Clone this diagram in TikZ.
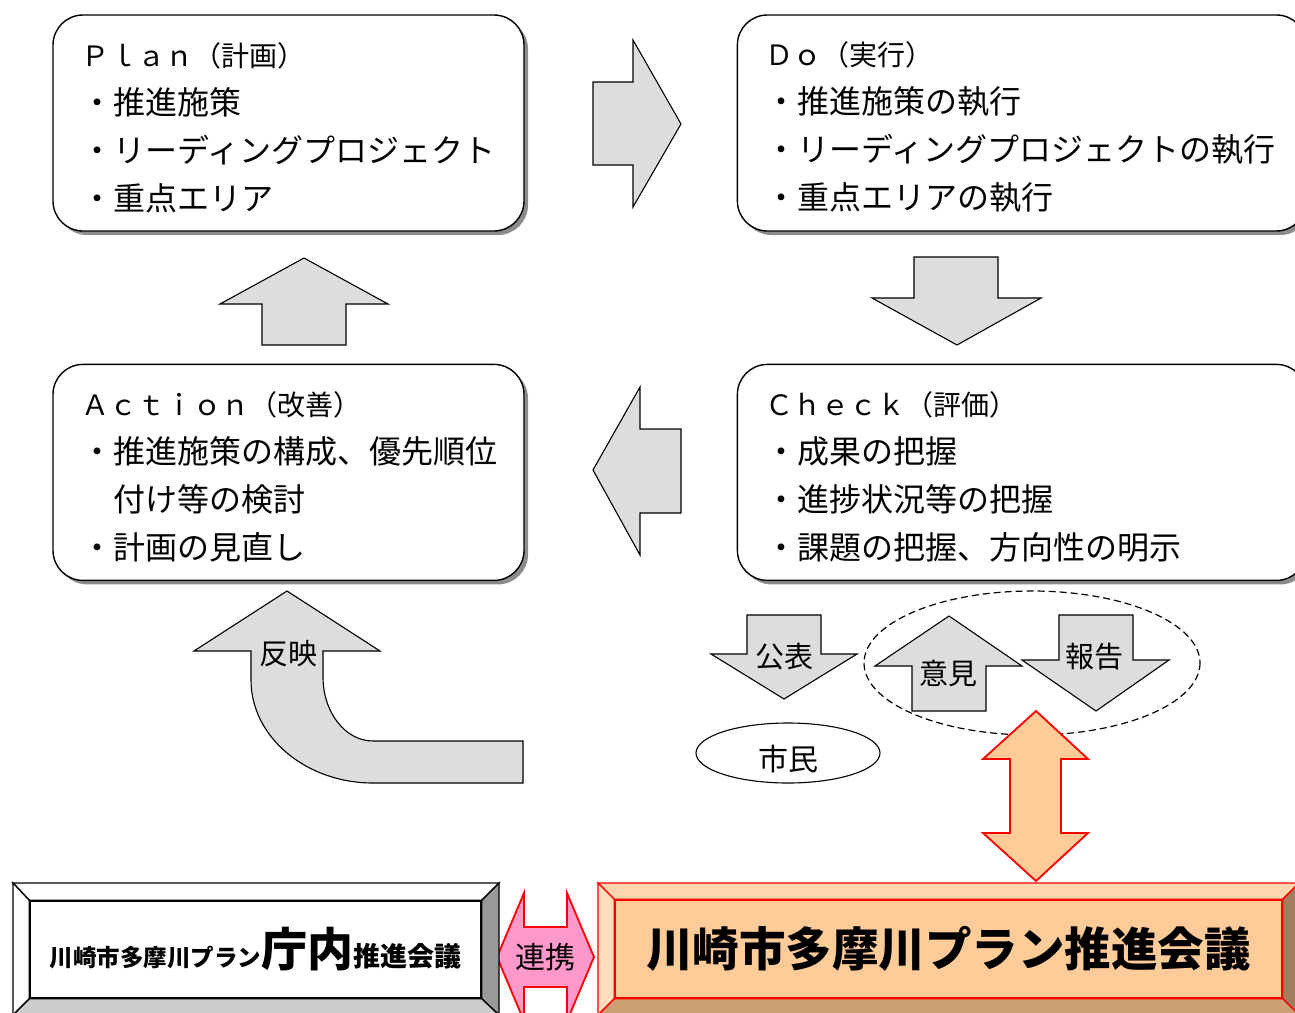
\documentclass[tikz,border=0pt]{standalone}
\usepackage{fontspec}
\setmainfont{Noto Sans CJK JP}
\usepackage{tikz}
\usetikzlibrary{positioning,shadows,shapes.geometric}
\definecolor{arrowgray}{RGB}{221,221,221}
\definecolor{peach}{RGB}{255,204,153}
\definecolor{peachlight}{RGB}{255,222,190}
\definecolor{peachtop}{RGB}{255,214,173}
\definecolor{peachdark}{RGB}{204,160,116}
\definecolor{peachside}{RGB}{160,125,92}
\definecolor{pinkfill}{RGB}{255,153,204}
\tikzset{
	pdca/.style={draw, line width=1.4pt, rounded corners=30pt, fill=white,
		align=left, inner xsep=28.5pt, minimum height=216pt,
		font=\fontsize{32}{48}\selectfont,
		drop shadow={shadow xshift=4pt, shadow yshift=-4pt, fill=black!45, opacity=1}},
	blk/.style={draw, line width=1.1pt, fill=arrowgray},
	redblk/.style={draw=red, line width=1.8pt},
	lbl/.style={font=\fontsize{29}{29}\selectfont, inner sep=0pt},
}
\newcommand{\hdtext}[1]{{\fontsize{28}{48}\selectfont\rule{0pt}{33pt}#1}}

\begin{document}
\begin{tikzpicture}[x=1pt, y=-1pt]
	\useasboundingbox (0,0) rectangle (1295,1012);

	% PDCA boxes
	\node[pdca, text width=414pt] (plan) at (288.5,123)
		{\hdtext{Ｐｌａｎ（計画）}\\・推進施策\\・リーディングプロジェクト\\・重点エリア};
	\node[pdca, text width=512pt, right=212pt of plan] (do)
		{\hdtext{Ｄｏ（実行）}\\・推進施策の執行\\・リーディングプロジェクトの執行\\・重点エリアの執行};
	\node[pdca, text width=512pt, below=132pt of do] (check)
		{\hdtext{Ｃｈｅｃｋ（評価）}\\・成果の把握\\・進捗状況等の把握\\・課題の把握、方向性の明示};
	\node[pdca, text width=414pt, below=132pt of plan] (action)
		{\hdtext{Ａｃｔｉｏｎ（改善）}\\・推進施策の構成、優先順位\\\hspace*{1em}付け等の検討\\・計画の見直し};

	% cycle arrows
	\draw[blk] (593,82) -- (633,82) -- (633,40) -- (681,124) -- (633,207) -- (633,165) -- (593,165) -- cycle;
	\draw[blk] (914,257) -- (998,257) -- (998,298) -- (1041,298) -- (957,345) -- (872,298) -- (914,298) -- cycle;
	\draw[blk] (681,429) -- (681,513) -- (640,513) -- (640,555) -- (593,470) -- (640,387) -- (640,429) -- cycle;
	\draw[blk] (262,345) -- (346,345) -- (346,304) -- (388,304) -- (304,258) -- (220,304) -- (262,304) -- cycle;

	% curved arrow
	\draw[blk] (287,591) -- (380,651) -- (323,651) -- (323,677)
		.. controls (323,712) and (345,741) .. (373,741) -- (523,741) -- (523,783) -- (373,783)
		.. controls (306,783) and (251,737) .. (251,680) -- (251,651) -- (194,651) -- cycle;
	\node[lbl] (hanei) at (288,654) {反映};

	% citizens side
	\draw[dash pattern=on 7pt off 4pt, line width=1.2pt] (1032,663) ellipse [x radius=168, y radius=72];
	\draw[blk] (747,615) -- (821,615) -- (821,654) -- (857,654) -- (784,699) -- (711,654) -- (747,654) -- cycle;
	\draw[blk] (949,616) -- (1022,666) -- (986,666) -- (986,711) -- (912,711) -- (912,666) -- (875,666) -- cycle;
	\draw[blk] (1059,615) -- (1133,615) -- (1133,660) -- (1169,660) -- (1096,711) -- (1022,660) -- (1059,660) -- cycle;
	\node[lbl] (kohyo) at (784,657) {公表};
	\node[lbl] (iken) at (948,673) {意見};
	\node[lbl] (hokoku) at (1094,657) {報告};
	\node[draw, line width=1.1pt, ellipse, minimum width=184pt, minimum height=60pt, inner sep=0pt] (shimin) at (788,753) {};
	\node[lbl, font=\fontsize{30}{30}\selectfont] (shimintxt) at ([yshift=-6pt]shimin.center) {市民};

	% link arrows
	\draw[redblk, fill=peach] (1036,711) -- (1088,759) -- (1061,759) -- (1061,833) -- (1088,833) -- (1036,881)
		-- (983,833) -- (1010,833) -- (1010,759) -- (983,759) -- cycle;
	\draw[redblk, fill=pinkfill] (524,893) -- (524,927) -- (567,927) -- (567,893) -- (594,957) -- (567,1021)
		-- (567,987) -- (524,987) -- (524,1021) -- (497,957) -- cycle;
	\node[lbl, font=\fontsize{30}{30}\selectfont] (renkei) at (545,957) {連携};

	% internal meeting
	\node[draw, line width=1.4pt, fill=white, inner sep=0pt, minimum width=451pt, minimum height=97pt] (chonai) at (255.5,949.5)
		{\bfseries{\fontsize{23.5}{23}\selectfont 川崎市多摩川プラン}{\fontsize{46}{46}\selectfont 庁内}{\fontsize{27}{27}\selectfont 推進会議}};
	\draw[line width=1.4pt, fill=white] (13,883) -- (499,883) -- (chonai.north east) -- (chonai.north west) -- cycle;
	\draw[line width=1.4pt, fill=white] (13,883) -- (chonai.north west) -- (chonai.south west) -- (13,1015) -- cycle;
	\draw[line width=1.4pt, fill=black!40] (499,883) -- (499,1015) -- (chonai.south east) -- (chonai.north east) -- cycle;
	\draw[line width=1.4pt, fill=black!20] (13,1015) -- (chonai.south west) -- (chonai.south east) -- (499,1015) -- cycle;

	% promotion meeting
	\node[draw=red, line width=1.4pt, fill=peach, inner sep=0pt, minimum width=667pt, minimum height=98pt] (suishin) at (948.5,949)
		{\bfseries\fontsize{46.5}{46}\selectfont 川崎市多摩川プラン推進会議};
	\draw[draw=red, line width=1.4pt, fill=peachtop] (598,883) -- (1299,883) -- (suishin.north east) -- (suishin.north west) -- cycle;
	\draw[draw=red, line width=1.4pt, fill=peachlight] (598,883) -- (suishin.north west) -- (suishin.south west) -- (598,1015) -- cycle;
	\draw[draw=red, line width=1.4pt, fill=peachside] (1299,883) -- (1299,1015) -- (suishin.south east) -- (suishin.north east) -- cycle;
	\draw[draw=red, line width=1.4pt, fill=peachdark] (598,1015) -- (suishin.south west) -- (suishin.south east) -- (1299,1015) -- cycle;
\end{tikzpicture}
\end{document}
